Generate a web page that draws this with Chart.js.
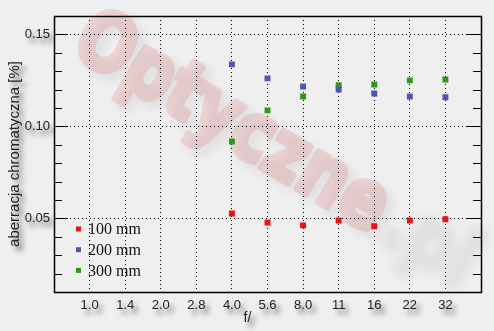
<!DOCTYPE html>
<html>
<head>
<meta charset="utf-8">
<script src="https://cdn.jsdelivr.net/npm/chart.js@4"></script>
<style>
  body { margin: 0; background: #efefef; }
  #wrap { width: 494px; height: 331px; }
</style>
</head>
<body>
<div id="wrap"><canvas id="chart" width="494" height="331"></canvas></div>
<script>
// aperture categories (f-numbers)
const apertures = ['1.0', '1.4', '2.0', '2.8', '4.0', '5.6', '8.0', '11', '16', '22', '32'];
// chromatic aberration [%] per focal length
const seriesNames = ['100 mm', '200 mm', '300 mm'];
const ca100 = [null, null, null, null, 0.0527, 0.0478, 0.0462, 0.0489, 0.0457, 0.0489, 0.0495];
const ca200 = [null, null, null, null, 0.1337, 0.1261, 0.1217, 0.1201, 0.1179, 0.1163, 0.1158];
const ca300 = [null, null, null, null, 0.0918, 0.1087, 0.1163, 0.1224, 0.1228, 0.1250, 0.1255];
const majorTicks = [0.05, 0.10, 0.15];

const colors = ['#ee1111', '#5353b3', '#2c9a18'];

// padded labels so there is an empty slot at each end
const labels = [''].concat(apertures, ['']);

function points(vals) {
    return apertures.map((a, i) => ({ x: a, y: vals[i] })).filter(p => p.y !== null);
}

function isMajor(v) {
    return majorTicks.some(m => Math.abs(m - v) < 1e-6);
}

// text shadow on tick labels and titles
const shadowPlugin = {
    id: 'shadow',
    afterLayout(chart) {
        Object.values(chart.scales).forEach(scale => {
            if (scale._wrapped) return;
            scale._wrapped = true;
            const ctx = chart.ctx;
            const origLabels = scale.drawLabels.bind(scale);
            const origTitle = scale.drawTitle.bind(scale);
            const setShadow = () => {
                ctx.shadowColor = 'rgba(0,0,0,0.6)';
                ctx.shadowBlur = 5;
                ctx.shadowOffsetX = 4;
                ctx.shadowOffsetY = 5;
            };
            scale.drawLabels = function (area) {
                ctx.save(); setShadow(); origLabels(area); ctx.restore();
            };
            scale.drawTitle = function () {
                ctx.save(); setShadow();
                if (scale.axis === 'x') ctx.translate(-20, 0);
                origTitle(); ctx.restore();
            };
        });
    }
};

// background + watermark
function drawMark(c, a, b, fa, fb, stroke) {
    c.font = 'bold 80px "DejaVu Sans"';
    c.textBaseline = 'middle';
    c.lineJoin = 'round';
    c.lineWidth = stroke;
    const wa = c.measureText(a).width, wb = c.measureText(b).width;
    c.save();
    c.translate(272, 150);
    c.rotate(31 * Math.PI / 180);
    c.scale(450 / (wa + wb), 1);
    const x0 = -(wa + wb) / 2;
    c.fillStyle = fa; c.strokeStyle = fa;
    c.fillText(a, x0, 0); c.strokeText(a, x0, 0);
    c.fillStyle = fb; c.strokeStyle = fb;
    c.fillText(b, x0 + wa, 0); c.strokeText(b, x0 + wa, 0);
    c.restore();
}

const backPlugin = {
    id: 'back',
    beforeDraw(chart) {
        const ctx = chart.ctx;
        ctx.save();
        ctx.fillStyle = '#efefef';
        ctx.fillRect(0, 0, chart.width, chart.height);

        const off = document.createElement('canvas');
        off.width = chart.width; off.height = chart.height;
        const oc = off.getContext('2d');
        // shadow layer
        oc.save();
        oc.filter = 'blur(5px)';
        oc.translate(6, 6);
        drawMark(oc, 'Optyczne', '.pl', '#000', '#000', 6);
        oc.restore();
        ctx.globalAlpha = 0.06;
        ctx.drawImage(off, 0, 0);

        oc.clearRect(0, 0, off.width, off.height);
        drawMark(oc, 'Optyczne', '.pl', '#e83a3a', '#e4e4e4', 6);
        ctx.globalAlpha = 0.14;
        ctx.drawImage(off, 0, 0);
        ctx.restore();
    }
};

// frame, inward tick marks, legend inside the plot
const framePlugin = {
    id: 'frame',
    afterDraw(chart) {
        const ctx = chart.ctx;
        const area = chart.chartArea;
        const y = chart.scales.y;
        ctx.save();
        ctx.strokeStyle = '#000';
        ctx.lineWidth = 1;
        ctx.beginPath();
        y.ticks.forEach(t => {
            const py = Math.round(y.getPixelForValue(t.value)) + 0.5;
            const len = isMajor(t.value) ? 14 : 8;
            ctx.moveTo(area.left, py); ctx.lineTo(area.left + len, py);
            ctx.moveTo(area.right, py); ctx.lineTo(area.right - len, py);
        });
        ctx.stroke();
        ctx.lineWidth = 1.5;
        ctx.strokeRect(Math.round(area.left) + 0.5, Math.round(area.top) + 0.5,
            Math.round(area.right - area.left), Math.round(area.bottom - area.top));

        // legend
        ctx.font = '16px "Liberation Serif"';
        ctx.textBaseline = 'middle';
        chart.data.datasets.forEach((ds, i) => {
            const ly = 229 + i * 20.7;
            ctx.fillStyle = ds.backgroundColor;
            ctx.fillRect(76, ly - 2.5, 5, 5);
            ctx.fillStyle = '#111';
            ctx.fillText(ds.label, 88, ly + 1);
        });
        ctx.restore();
    }
};

const datasets = [ca100, ca200, ca300].map((vals, i) => ({
    label: seriesNames[i],
    data: points(vals),
    showLine: false,
    pointStyle: 'rect',
    pointRadius: 4.2,
    pointHoverRadius: 4.2,
    borderWidth: 0,
    backgroundColor: colors[i],
    borderColor: colors[i]
}));

new Chart(document.getElementById('chart').getContext('2d'), {
    type: 'line',
    data: { labels: labels, datasets: datasets },
    options: {
        responsive: false,
        animation: false,
        devicePixelRatio: 1,
        layout: { padding: { top: 16, right: 13, left: 0, bottom: 0 } },
        plugins: {
            legend: { display: false },
            tooltip: { enabled: false }
        },
        scales: {
            x: {
                type: 'category',
                offset: false,
                afterFit(scale) { scale.height = 39; },
                grid: {
                    drawTicks: false,
                    lineWidth: 1,
                    color(c) {
                        return (c.index === 0 || c.index === labels.length - 1) ? 'rgba(0,0,0,0)' : '#000';
                    }
                },
                border: { display: false, dash: [1, 3] },
                ticks: {
                    autoSkip: false,
                    maxRotation: 0,
                    padding: 6,
                    color: '#222',
                    font: { family: '"Liberation Sans"', size: 13 }
                },
                title: {
                    display: true,
                    text: 'f/',
                    color: '#222',
                    padding: { top: 0, bottom: 4 },
                    font: { family: '"Liberation Sans"', size: 14 }
                }
            },
            y: {
                min: 0.01,
                max: 0.16,
                afterFit(scale) { scale.width = 54; },
                grid: {
                    drawTicks: false,
                    lineWidth: 1,
                    color(c) {
                        return c.tick && isMajor(c.tick.value) ? '#000' : 'rgba(0,0,0,0)';
                    }
                },
                border: { display: false, dash: [1, 3] },
                ticks: {
                    stepSize: 0.01,
                    autoSkip: false,
                    padding: 4,
                    color: '#222',
                    font: { family: '"Liberation Sans"', size: 13 },
                    callback(v) { return isMajor(v) ? v.toFixed(2) : ''; }
                },
                title: {
                    display: true,
                    text: 'aberracja chromatyczna [%]',
                    color: '#222',
                    padding: { top: 6, bottom: 0 },
                    font: { family: '"Liberation Sans"', size: 15 }
                }
            }
        }
    },
    plugins: [backPlugin, shadowPlugin, framePlugin]
});
</script>
</body>
</html>
